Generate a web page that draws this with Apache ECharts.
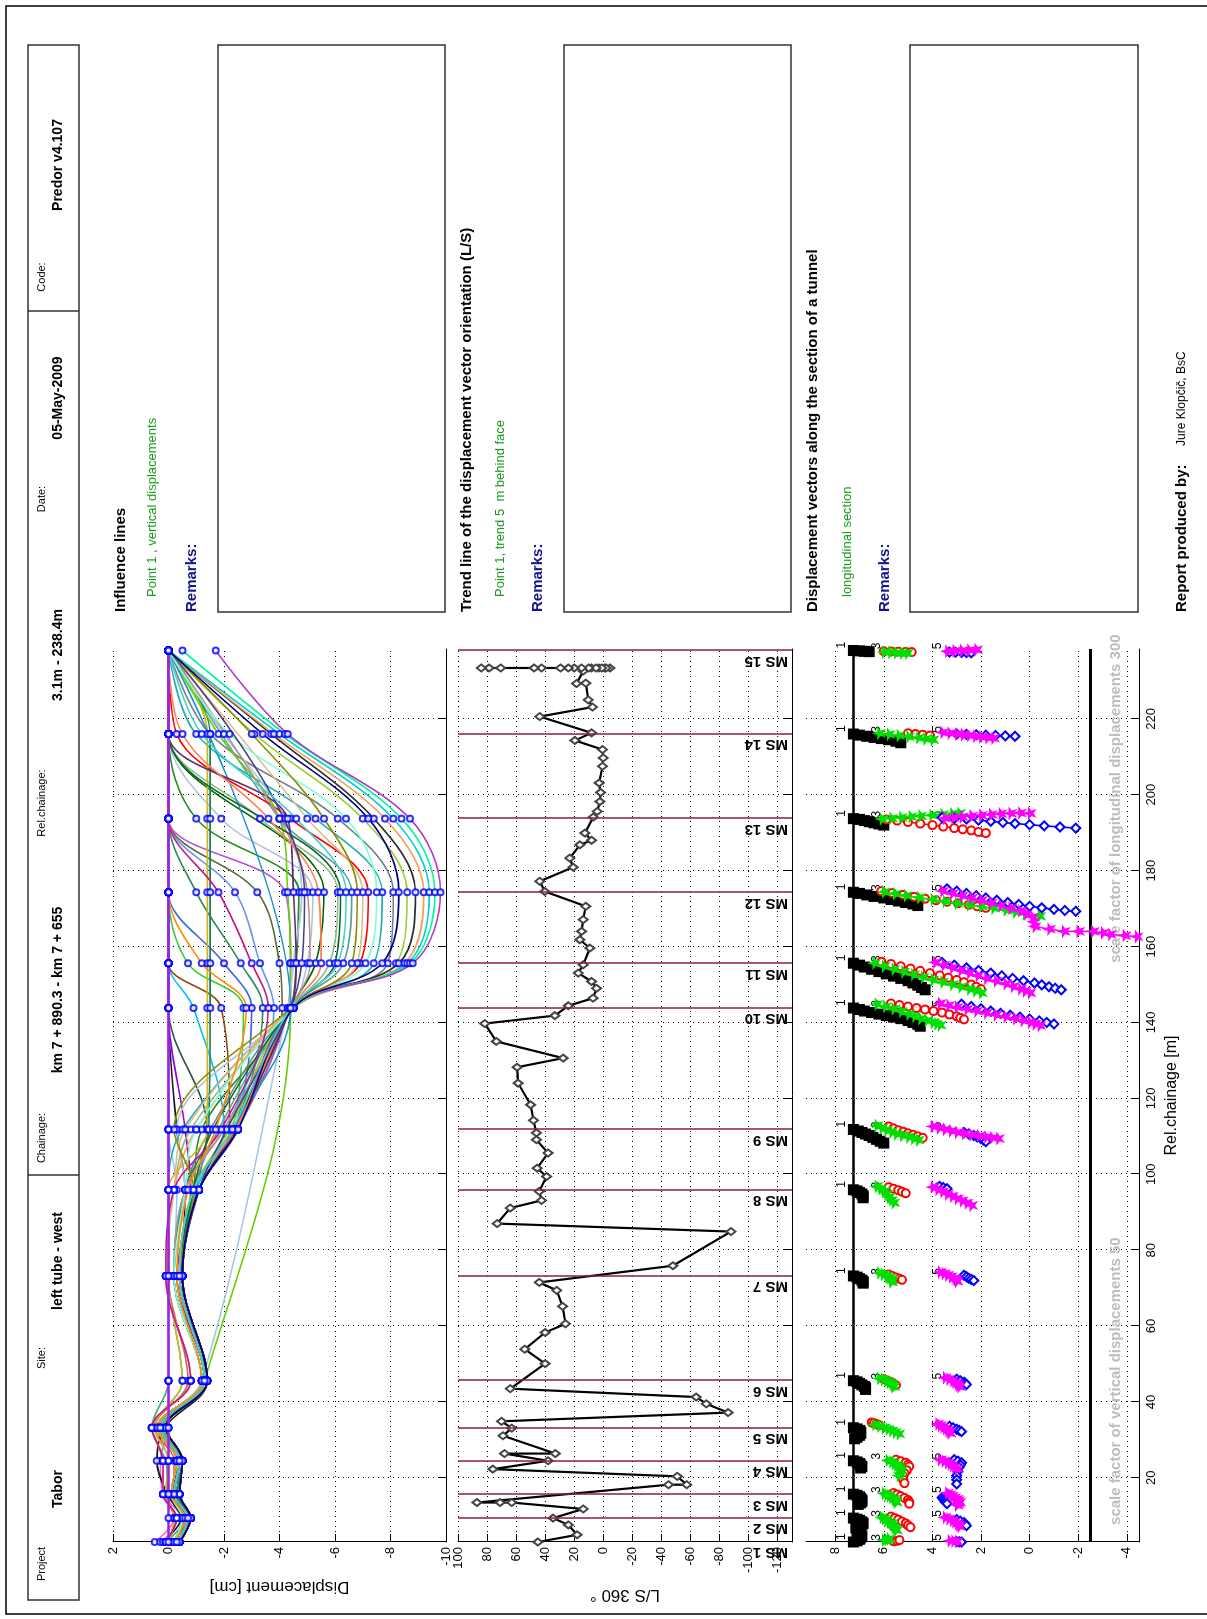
<!DOCTYPE html>
<html>
<head>
<meta charset="utf-8">
<title>Predor report - Tabor</title>
<script src="https://cdn.jsdelivr.net/npm/echarts@6/dist/echarts.min.js"></script>
<style>
  html, body { margin: 0; padding: 0; background: #fff; width: 1207px; height: 1619px; overflow: hidden; }
  /* the report is laid out in landscape and turned a quarter turn counter-clockwise onto the portrait page */
  #page { position: absolute; left: 0; top: 0; width: 1619px; height: 1207px;
          transform-origin: 0 0; transform: translate(0px, 1619px) rotate(-90deg); background: #fff; }
</style>
</head>
<body>
<div id="page"></div>
<script>
// ---------------------------------------------------------------- data
// measuring sections along the tunnel (relative chainage, m)
const MS_CHAINAGE = [3.1, 9.4, 15.7, 24.5, 33.2, 45.6, 73.2, 95.9, 111.8, 143.8, 155.6, 174.3, 193.7, 216.0, 238.0];
const MS_NAMES = ['MS 1','MS 2','MS 3','MS 4','MS 5','MS 6','MS 7','MS 8','MS 9','MS 10','MS 11','MS 12','MS 13','MS 14','MS 15'];

const CHAINAGE_TICKS = [20, 40, 60, 80, 100, 120, 140, 160, 180, 200, 220];
const DISP_TICKS = [2, 0, -2, -4, -6, -8, -10];
const ANGLE_TICKS = [100, 80, 60, 40, 20, 0, -20, -40, -60, -80, -100, -120];
const VECTOR_TICKS = [8, 6, 4, 2, 0, -2, -4];

// influence lines: vertical displacement of point 1 [cm] at MS 1 ... MS 15 (null = no reading)
const IL_01 = [0, 0, 0, 0, 0, 0, 0, 0, 0, 0, 0, 0, 0, 0, 0];
const IL_02 = [0.5, -0.2, 0, 0, 0, 0, 0, 0, 0, 0, 0, 0, 0, 0, 0];
const IL_03 = [0.3, -0.5, 0.2, 0.3, 0, 0, 0, 0, 0, 0, 0, 0, 0, 0, 0];
const IL_04 = [0.1, -0.6, 0.0, 0.1, 0.6, 0, 0, 0, 0, 0, 0, 0, 0, 0, 0];
const IL_05 = [-0.1, -0.7, -0.2, -0.2, 0.5, -0.7, 0, 0, 0, 0, 0, 0, 0, 0, 0];
const IL_06 = [0.2, -0.45, 0.05, 0.42, 0.15, -1.4, -0.5, -0.6, -0.3, 0, 0, 0, 0, 0, 0];
const IL_07 = [-0.2, -0.6, -0.1, -0.3, 0.4, -1.2, -0.2, -0.3, 0, 0, 0, 0, 0, 0, 0];
const IL_08 = [-0.2, -0.6, -0.2, -0.3, 0.3, -1.3, -0.3, -0.8, -0.6, 0, 0, 0, 0, 0, 0];
const IL_09 = [-0.3, -0.7, -0.2, -0.4, 0.3, -1.3, -0.4, -1.0, -1.4, 0, 0, 0, 0, 0, 0];
const IL_10 = [-0.3, -0.7, -0.3, -0.4, 0.2, -1.4, -0.4, -1.0, -2.0, -0.9, 0, 0, 0, 0, 0];
const IL_11 = [-0.3, -0.8, -0.3, -0.5, 0.2, -1.4, -0.5, -1.1, -2.2, -1.9, 0, 0, 0, 0, 0];
const IL_12 = [-0.3, -0.8, -0.3, -0.5, 0.2, -1.4, -0.5, -1.1, -2.3, -2.7, -0.7, 0, 0, 0, 0];
const IL_13 = [-0.4, -0.8, -0.3, -0.5, 0.1, -1.4, -0.5, -1.1, -2.4, -3.0, -2.0, 0, 0, 0, 0];
const IL_14 = [-0.4, -0.8, -0.3, -0.5, 0.1, -1.4, -0.5, -1.1, -2.4, -3.4, -2.6, -1.0, 0, 0, 0];
const IL_15 = [-0.4, -0.8, -0.4, -0.5, 0.1, -1.4, -0.5, -1.1, -2.5, -3.8, -3.3, -2.4, 0, 0, 0];
const IL_16 = [-0.4, -0.8, -0.4, -0.5, 0.1, -1.4, -0.5, -1.1, -2.5, -4.1, -4.0, -3.2, 0, 0, 0];
const IL_17 = [-0.4, -0.8, -0.4, -0.5, 0.1, -1.4, -0.5, -1.1, -2.5, -4.3, -4.4, -4.2, 0, 0, 0];
const IL_18 = [-0.3, -0.7, -0.2, -0.4, 0.3, -1.3, -0.4, -0.9, -1.2, -4.4, -4.6, -4.7, -1.0, 0, 0];
const IL_19 = [-0.2, -0.5, -0.1, -0.3, 0.4, -1.2, -0.2, -0.6, -0.3, -4.4, -5.0, -5.2, -1.9, 0, 0];
const IL_20 = [-0.4, -0.8, -0.4, -0.5, 0.1, -1.4, -0.5, -1.1, -2.5, -4.4, -5.3, -5.6, null, 0, 0];
const IL_21 = [0.1, -0.3, 0.2, 0.2, 0.6, -0.8, 0.1, -0.2, -0.8, -4.4, -5.8, -6.1, -3.3, 0, 0];
const IL_22 = [-0.3, -0.7, -0.2, -0.4, 0.3, -1.3, -0.4, -0.9, -1.8, -4.4, -6.3, -6.6, -4.0, null, 0];
const IL_23 = [-0.4, -0.8, -0.4, -0.5, 0.1, -1.4, -0.5, -1.1, -2.5, -4.5, -6.9, -7.2, -4.4, -0.3, 0];
const IL_24 = [0.0, -0.2, 0.1, 0.0, 0.5, -0.5, 0.0, 0.0, -0.5, -4.5, -7.4, -7.7, -5.3, -1.0, 0];
const IL_25 = [-0.2, -0.5, -0.1, -0.3, 0.4, -1.2, -0.2, -0.6, -1.5, -4.5, -7.9, -8.1, -6.1, -1.5, 0];
const IL_26 = [-0.3, -0.7, -0.2, -0.4, 0.3, -1.3, -0.4, -0.9, -2.2, -4.5, -8.2, -8.6, -7.0, -3.1, 0];
const IL_27 = [-0.4, -0.8, -0.4, -0.5, 0.1, -1.4, -0.5, -1.1, -2.4, -4.5, -8.3, -8.9, -7.4, -3.7, 0];
const IL_28 = [0.1, -0.3, 0.2, 0.2, 0.6, -0.8, 0.1, -0.2, -1.0, -4.5, -8.5, -9.2, -7.8, -3.8, 0];
const IL_29 = [-0.2, -0.5, -0.1, -0.3, 0.4, -1.2, -0.2, -0.6, -2.0, -4.5, -8.6, -9.4, -8.1, -4.0, 0];
const IL_30 = [-0.3, -0.7, -0.2, -0.4, 0.3, -1.3, -0.4, -0.9, -2.5, -4.5, -8.7, -9.6, -8.4, -4.2, -0.5];
const IL_31 = [-0.4, -0.8, -0.4, -0.5, 0.1, -1.4, -0.5, -1.1, -2.5, -4.5, -8.8, -9.8, -8.7, -4.3, -1.7];
const IL_32 = [0.0, -0.2, 0.1, 0.0, 0.5, -0.5, 0.0, 0.0, -1.4, -1.4, -1.4, -1.4, -1.4, -1.4, 0];
const IL_33 = [-0.2, -0.5, -0.1, -0.3, 0.4, -1.2, -0.2, -0.6, -1.45, -1.5, -1.5, -1.5, -1.5, -1.5, 0];
const IL_34 = [-0.4, -0.8, -0.4, -0.5, 0.1, -1.3, null, null, null, -4.4, -4.4, -4.3, -4.0, -1.8, 0];
const IL_35 = [-0.3, -0.7, -0.2, -0.4, 0.3, -1.2, null, null, null, -4.3, -4.5, -4.8, -4.2, -2.0, 0];
const IL_36 = [-0.3, -0.7, -0.2, -0.4, 0.3, -1.3, -0.4, -0.9, -2.3, -4.4, null, null, null, null, 0];
const IL_37 = [-0.4, -0.8, -0.4, -0.5, 0.1, -1.4, -0.5, -1.1, -2.4, -4.4, -4.6, -4.5, -4.3, 0, 0];
const IL_38 = [-0.2, -0.5, -0.1, -0.3, 0.4, -1.2, -0.2, -0.6, -2.0, -4.4, -5.1, -5.0, -4.0, null, 0];
const IL_39 = [-0.3, -0.7, -0.2, -0.4, 0.3, -1.3, -0.4, -0.9, -1.6, -4.4, -6.0, -6.2, null, 0, 0];
const IL_40 = [0.1, -0.3, 0.2, 0.2, 0.6, -0.8, 0.1, -0.2, -0.6, -4.4, -6.8, -7.0, -5.0, null, 0];
const IL_41 = [-0.3, -0.7, -0.2, -0.4, 0.3, -1.3, -0.4, -0.9, -2.4, -4.4, -5.5, -5.4, -3.6, -0.5, 0];
const IL_42 = [-0.2, -0.5, -0.1, -0.3, 0.4, -1.2, -0.2, -0.6, -1.0, -4.5, -7.1, -7.5, -6.4, -2.2, 0];
const IL_43 = [-0.4, -0.8, -0.4, -0.5, 0.1, -1.4, -0.5, -1.1, -2.1, -4.4, -4.8, -4.9, null, null, 0];
const IL_44 = [0.1, -0.3, 0.2, 0.2, 0.6, -0.8, 0.1, -0.2, -1.9, -3.6, -3.0, -1.8, 0, 0, 0];
const IL_45 = [-0.3, -0.7, -0.2, -0.4, 0.3, -1.3, -0.4, -0.9, -0.2, -4.4, -6.6, -6.8, -5.6, -3.0, 0];
const IL_46 = [-0.4, -0.8, -0.4, -0.5, 0.1, -1.4, -0.5, -1.1, -2.5, -4.5, -7.7, -8.3, -7.2, -3.4, 0];
const IL_47 = [-0.2, -0.6, -0.1, -0.3, 0.4, -1.2, -0.3, -0.7, -1.7, -2.8, -1.2, 0, 0, 0, 0];
const IL_48 = [-0.3, -0.7, -0.2, -0.4, 0.3, -1.3, -0.4, -0.9, -2.3, -4.4, -6.1, -6.4, -4.6, -1.2, 0];

const IL_COLORS = ['#a020f0','#ff6eb4','#e066ff','#3cb371','#cd5c5c','#1a1a1a','#87cefa','#9400d3','#2f4f4f','#00bfff',
                   '#8b4513','#32cd32','#4169e1','#2e8b57','#6495ed','#556b2f','#ba55d3','#228b22','#b0c4de','#006400',
                   '#8fbc8f','#5f9ea0','#ff0000','#20b2aa','#708090','#9acd32','#2f2f2f','#f4a460','#00ced1','#00fa9a',
                   '#b03cc8','#d4b41e','#1b7f5b','#66cd00','#a4c8e0','#1f8fd0','#5b2c6f','#bc8f8f','#0b6623','#deb887',
                   '#ff7f50','#7fffd4','#483d8b','#c71585','#8b8b00','#000080','#ff8c00','#48d1cc'];

// trend of the displacement vector orientation L/S [deg] along the chainage
const LS_POINTS = [
  [3.1,45],[5.0,18],[7.6,24],[9.4,34.5],[11.8,13.8],[13.5,63],[13.5,71],[13.5,87],[18.2,-45],[18.2,-57.5],
  [20.4,-51],[22.3,76],[24.5,38],[26.4,68],[26.4,33],[31.1,69],[33.1,63],[34.9,70],[37.2,-86],[39.5,-71],
  [41.3,-64],[43.5,64],[50.1,40],[53.9,54],[58.3,40],[60.6,26],[65.2,28],[69.4,32],[71.5,44],[75.9,-48],
  [84.9,-88],[87.0,73],[91.1,64],[93.1,42.5],[95.5,44],[99.4,39],[101.6,45.5],[105.6,38],[109.1,46],[110.9,46],
  [114.2,48],[118.3,50],[124.0,58.6],[128.2,59.3],[130.6,27.6],[135.0,73.6],[139.7,81.6],[141.8,33.3],[144.4,24],[146.4,7],
  [149.0,4.6],[150.8,8],[153.0,17.2],[155.2,13.8],[159.6,9.2],[161.8,16.1],[164.0,14.9],[167.1,13.8],[170.6,12],[174.5,40.2],
  [177.2,43.7],[180.9,20.7],[183.3,23],[186.8,16.1],[188.0,8],[189.9,12.6],[194.1,6.9],[195.6,4.1],[198.2,2.3],[200.6,1.8],
  [203.1,2.8],[207.5,0.5],[209.7,0],[211.9,0.5],[214.3,19.5],[216.3,8],[220.6,43.7],[223.1,7.4],[225.0,10.3],[229.4,12],
  [229.3,18.4],[232.6,13.8],[233.4,8],[233.4,3],[233.4,-1],[233.4,-4.6],[233.4,-2],[233.4,1],[233.4,5],[233.4,10],
  [233.4,15],[233.4,20],[233.4,24],[233.4,29.4],[233.4,42.5],[233.4,47.6],[233.4,70.6],[233.4,78.6],[233.4,84]
];

// displacement vectors, longitudinal section: reference lines
const TUNNEL_LINE_LEVEL = 7.25;
const BASE_LINE_LEVEL = -2.5;

// vector tip paths per measuring section [chainage, scaled position]
const P1_TRAILS = [
  [[3.1,7.25],[3.4,7.1],[3.8,7.0],[4.2,6.95],[4.6,6.9],[5.0,6.95],[5.4,7.0],[5.8,7.1]],
  [[9.4,7.25],[9.1,7.1],[8.8,7.0],[8.4,6.9],[8.0,6.85],[7.6,6.9],[7.2,7.0],[6.8,7.15]],
  [[15.7,7.25],[15.4,7.1],[15.0,7.0],[14.6,6.95],[14.2,6.9],[13.8,6.9],[13.4,6.95],[13.0,7.05]],
  [[24.5,7.25],[24.2,7.1],[23.8,7.0],[23.4,6.95],[23.0,6.9],[22.6,6.95]],
  [[33.2,7.25],[32.9,7.1],[32.5,7.0],[32.1,6.95],[31.7,6.95],[31.2,7.0],[30.7,7.1],[30.3,7.2]],
  [[45.6,7.25],[45.3,7.1],[44.9,7.0],[44.5,6.9],[44.1,6.8],[43.7,6.75],[43.3,6.75]],
  [[73.2,7.25],[72.9,7.1],[72.5,7.0],[72.1,6.9],[71.7,6.85],[71.3,6.85]],
  [[95.9,7.25],[95.6,7.1],[95.2,7.0],[94.8,6.9],[94.3,6.85],[93.8,6.85]],
  [[111.8,7.25],[111.4,7.05],[111.0,6.9],[110.6,6.75],[110.2,6.6],[109.7,6.45],[109.2,6.3],[108.7,6.15],[108.2,6.0]],
  [[143.8,7.25],[143.4,7.0],[143.0,6.8],[142.6,6.5],[142.2,6.2],[141.8,5.9],[141.4,5.6],[141.0,5.3],[140.5,5.0],[140.0,4.8],[139.5,4.6],[139.0,4.5]],
  [[155.6,7.25],[155.1,7.0],[154.6,6.8],[154.0,6.5],[153.4,6.2],[152.8,5.9],[152.2,5.6],[151.6,5.3],[151.0,5.0],[150.4,4.8],[149.8,4.6],[149.2,4.45],[148.6,4.3]],
  [[174.3,7.25],[174.0,7.0],[173.6,6.7],[173.2,6.4],[172.8,6.0],[172.4,5.7],[172.0,5.4],[171.6,5.1],[171.2,4.8],[170.8,4.6]],
  [[193.7,7.25],[193.5,7.0],[193.2,6.8],[192.9,6.6],[192.6,6.4],[192.3,6.2],[192.0,6.0]],
  [[216.0,7.25],[215.7,7.0],[215.4,6.7],[215.1,6.4],[214.8,6.1],[214.5,5.8],[214.1,5.5],[213.7,5.3]],
  [[238.0,7.25],[237.9,7.0],[237.8,6.8],[237.7,6.6]]
];
const P2_TRAILS = [
  [[3.3,5.6],[3.4,5.45],[3.6,5.35]],
  [[9.8,5.7],[9.4,5.55],[9.0,5.4],[8.5,5.25],[8.0,5.1],[7.5,5.0],[7.0,4.9]],
  [[16.0,5.6],[15.6,5.45],[15.2,5.3],[14.7,5.15],[14.2,5.0],[13.7,4.95],[13.2,4.95]],
  [[24.8,5.5],[24.4,5.3],[24.0,5.1],[23.5,5.0],[23.0,4.95],[22.0,5.05],[21.2,5.15],[20.4,5.2],[19.5,5.2],[18.6,5.15]],
  [[34.6,6.5],[34.4,6.4],[34.2,6.3],[33.9,6.2]],
  [[46.0,6.0],[45.6,5.85],[45.2,5.7],[44.8,5.6],[44.4,5.5]],
  [[73.6,5.8],[73.2,5.65],[72.8,5.5],[72.5,5.35],[72.2,5.25]],
  [[96.6,5.8],[96.2,5.6],[95.8,5.4],[95.4,5.25],[95.0,5.1]],
  [[112.6,5.8],[112.1,5.6],[111.6,5.4],[111.2,5.2],[110.8,5.0],[110.4,4.8],[110.0,4.6],[109.6,4.4]],
  [[145.0,5.7],[144.6,5.35],[144.2,5.0],[143.8,4.65],[143.4,4.3],[143.0,3.95],[142.6,3.6],[142.1,3.3],[141.6,3.0],[141.2,2.85],[140.8,2.7]],
  [[156.0,6.1],[155.4,5.7],[154.8,5.3],[154.2,4.9],[153.6,4.5],[153.0,4.1],[152.4,3.7],[151.8,3.35],[151.2,3.0],[150.6,2.7],[150.0,2.4],[149.4,2.2],[148.8,2.0]],
  [[174.6,6.1],[174.1,5.65],[173.6,5.2],[173.1,4.75],[172.6,4.3],[172.2,3.85],[171.8,3.4],[171.4,2.95],[171.0,2.5],[170.6,2.15],[170.2,1.8]],
  [[193.5,5.9],[193.2,5.45],[192.8,5.0],[192.4,4.5],[192.0,4.0],[191.6,3.55],[191.2,3.1],[190.9,2.75],[190.6,2.4],[190.2,2.1],[189.9,1.8]],
  [[216.2,5.0],[216.0,4.7],[215.8,4.4],[215.6,4.1]],
  [[237.8,6.0],[237.75,5.7],[237.7,5.4],[237.65,5.1],[237.6,4.85]]
];
const P3_TRAILS = [
  [[3.6,6.0],[3.7,5.9],[3.9,5.8]],
  [[9.6,6.1],[9.2,6.0],[8.8,5.9],[8.4,5.8],[8.0,5.7],[7.5,5.65],[7.0,5.6],[6.6,5.55],[6.2,5.5]],
  [[15.9,6.0],[15.5,5.9],[15.2,5.8],[14.8,5.7],[14.4,5.6],[14.0,5.55],[13.6,5.5]],
  [[24.6,5.85],[24.2,5.7],[23.8,5.6],[23.4,5.5],[23.0,5.4],[22.5,5.35],[22.0,5.3],[21.3,5.35],[20.6,5.4]],
  [[34.0,6.4],[33.6,6.2],[33.2,6.0],[32.8,5.85],[32.4,5.7],[32.0,5.55],[31.6,5.4]],
  [[46.2,6.2],[45.9,6.05],[45.6,5.9],[45.2,5.8],[44.8,5.7],[44.4,5.65],[44.0,5.6]],
  [[74.0,6.2],[73.6,6.05],[73.2,5.9],[72.8,5.8],[72.4,5.7],[72.0,5.7],[71.6,5.7]],
  [[96.8,6.3],[96.2,6.15],[95.5,6.0],[94.8,5.9],[94.0,5.8],[93.2,5.7],[92.5,5.6]],
  [[112.8,6.3],[112.2,6.1],[111.6,5.9],[111.1,5.7],[110.6,5.5],[110.2,5.25],[109.8,5.0],[109.4,4.8],[109.0,4.6]],
  [[144.8,6.3],[144.2,5.95],[143.6,5.6],[142.9,5.3],[142.2,5.0],[141.6,4.75],[141.0,4.5],[140.5,4.25],[140.0,4.0],[139.6,3.85],[139.3,3.7]],
  [[155.6,6.4],[154.8,6.0],[154.0,5.6],[153.3,5.2],[152.6,4.8],[151.9,4.4],[151.2,4.0],[150.6,3.6],[150.0,3.2],[149.4,2.85],[148.8,2.5],[148.3,2.25],[147.8,2.0]],
  [[174.4,6.0],[173.9,5.55],[173.4,5.1],[172.9,4.55],[172.4,4.0],[171.9,3.5],[171.4,3.0],[171.0,2.5],[170.6,2.0],[170.1,1.5],[169.6,1.0],[169.1,0.6],[168.6,0.2],[168.0,-0.4]],
  [[193.6,6.1],[193.8,5.7],[194.0,5.3],[194.2,4.9],[194.4,4.5],[194.6,4.05],[194.8,3.6],[195.0,3.2],[195.1,2.9]],
  [[216.2,6.2],[215.9,5.8],[215.6,5.4],[215.3,5.0],[215.0,4.6],[214.7,4.3],[214.5,4.0]],
  [[237.6,6.0],[237.5,5.75],[237.4,5.5],[237.35,5.25],[237.3,5.05]]
];
const P4_TRAILS = [
  [[3.2,3.0],[3.15,2.9],[3.1,2.8]],
  [[9.0,3.0],[8.6,2.85],[8.2,2.7],[7.8,2.65],[7.4,2.6]],
  [[14.8,3.6],[14.4,3.55],[14.0,3.5],[13.6,3.45],[13.2,3.4]],
  [[24.8,3.1],[24.4,2.95],[24.0,2.8],[23.4,2.85],[22.8,2.9],[21.7,2.95],[20.6,3.0],[19.5,3.0],[18.4,3.0]],
  [[33.6,3.3],[33.2,3.15],[32.8,3.0],[32.5,2.9],[32.2,2.8]],
  [[46.0,3.0],[45.6,2.85],[45.2,2.7],[44.9,2.65],[44.6,2.6]],
  [[73.4,2.7],[73.0,2.6],[72.6,2.5],[72.3,2.4],[72.0,2.3]],
  [[96.8,3.7],[96.5,3.55],[96.2,3.4]],
  [[111.0,2.7],[110.6,2.5],[110.2,2.3],[109.8,2.15],[109.4,2.0],[109.0,1.9],[108.6,1.8]],
  [[144.8,2.8],[144.2,2.4],[143.6,2.0],[143.0,1.6],[142.4,1.2],[141.9,0.8],[141.4,0.4],[140.9,0.0],[140.4,-0.4],[140.0,-0.7],[139.6,-1.0]],
  [[155.8,3.6],[155.1,3.1],[154.4,2.6],[153.7,2.1],[153.0,1.6],[152.3,1.15],[151.6,0.7],[151.0,0.25],[150.4,-0.2],[149.9,-0.5],[149.4,-0.8],[149.0,-1.05],[148.6,-1.3]],
  [[175.2,3.4],[174.6,3.0],[174.0,2.6],[173.4,2.2],[172.8,1.8],[172.2,1.35],[171.6,0.9],[171.1,0.45],[170.6,0.0],[170.2,-0.5],[169.8,-1.0],[169.5,-1.45],[169.3,-1.9]],
  [[194.0,3.6],[193.8,3.1],[193.6,2.6],[193.3,2.1],[193.0,1.6],[192.7,1.1],[192.4,0.6],[192.1,0.0],[191.8,-0.6],[191.5,-1.25],[191.2,-1.9]],
  [[216.0,3.0],[215.9,2.6],[215.8,2.2],[215.7,1.8],[215.6,1.4],[215.5,1.0],[215.4,0.6]],
  [[237.6,3.3],[237.55,3.05],[237.5,2.8],[237.45,2.6],[237.4,2.4]]
];
const P5_TRAILS = [
  [[3.4,3.3],[3.3,3.15],[3.2,3.0]],
  [[9.6,3.5],[9.2,3.35],[8.8,3.2],[8.4,3.1],[8.0,3.0],[7.6,2.95],[7.2,2.9]],
  [[16.0,3.4],[15.6,3.3],[15.2,3.2],[14.8,3.1],[14.4,3.0],[14.0,2.95],[13.6,2.9],[13.2,2.95],[12.8,3.0]],
  [[24.8,3.7],[24.4,3.55],[24.0,3.4],[23.6,3.3],[23.2,3.2],[22.8,3.1],[22.4,3.0]],
  [[34.2,3.8],[33.8,3.7],[33.4,3.6],[33.0,3.5],[32.6,3.4],[32.2,3.35],[31.8,3.3]],
  [[46.4,3.5],[46.0,3.35],[45.6,3.2],[45.2,3.1],[44.8,3.0],[44.4,2.95],[44.0,2.9]],
  [[74.2,3.7],[73.8,3.55],[73.4,3.4],[73.0,3.25],[72.6,3.1],[72.2,3.05],[71.8,3.0]],
  [[96.6,4.0],[96.0,3.8],[95.4,3.6],[94.8,3.4],[94.2,3.2],[93.6,3.0],[93.0,2.8],[92.4,2.6],[91.8,2.4]],
  [[112.6,4.0],[112.2,3.75],[111.8,3.5],[111.4,3.25],[111.0,3.0],[110.7,2.7],[110.4,2.4],[110.1,2.1],[109.8,1.8],[109.6,1.55],[109.4,1.3]],
  [[145.0,3.7],[144.5,3.35],[144.0,3.0],[143.5,2.6],[143.0,2.2],[142.5,1.8],[142.0,1.4],[141.5,1.0],[141.0,0.6],[140.5,0.3],[140.0,0.0],[139.6,-0.2],[139.2,-0.4]],
  [[155.8,3.9],[155.1,3.55],[154.4,3.2],[153.7,2.85],[153.0,2.5],[152.3,2.15],[151.6,1.8],[150.9,1.4],[150.2,1.0],[149.5,0.7],[148.8,0.4],[148.3,0.2],[147.8,0.0]],
  [[174.6,3.6],[174.0,3.2],[173.4,2.8],[172.8,2.4],[172.2,2.0],[171.5,1.6],[170.8,1.2],[170.1,0.8],[169.4,0.4],[168.6,0.15],[167.8,-0.1],[166.5,-0.15],[165.3,-0.2],[164.6,-0.8],[164.0,-1.4],[164.0,-2.0],[164.0,-2.6],[163.6,-3.0],[163.2,-3.3],[162.9,-3.9],[162.6,-4.4]],
  [[193.8,3.5],[194.0,3.15],[194.2,2.8],[194.4,2.4],[194.6,2.0],[194.8,1.6],[195.0,1.2],[195.1,0.8],[195.2,0.4],[195.1,0.0]],
  [[216.4,3.6],[216.2,3.3],[216.0,3.0],[215.8,2.75],[215.6,2.5],[215.4,2.25],[215.2,2.0],[215.0,1.75],[214.9,1.5]],
  [[237.8,3.4],[237.9,3.1],[238.0,2.8],[238.1,2.5],[238.2,2.2]]
];

// ---------------------------------------------------------------- chart
const FONT = '"Liberation Sans", Arial, Helvetica, sans-serif';
const STAR = 'path://M0,-10L2.4,-3.1L9.5,-3.1L3.8,1.2L5.9,8.1L0,4L-5.9,8.1L-3.8,1.2L-9.5,-3.1L-2.4,-3.1Z';
const DOTS = [1, 4];

const chart = echarts.init(document.getElementById('page'), null, { width: 1619, height: 1207, renderer: 'canvas' });

function xAxisFor(i) {
  return {
    type: 'value', gridIndex: i, min: 3.1, max: 238.4,
    axisLine: { show: true, onZero: false, lineStyle: { color: '#000', width: 1 } },
    axisTick: { show: true, inside: true, length: 8, customValues: CHAINAGE_TICKS, lineStyle: { color: '#000' } },
    axisLabel: { show: i === 2, customValues: CHAINAGE_TICKS, color: '#000', fontSize: 13, fontFamily: FONT, margin: 6 },
    splitLine: { show: true, lineStyle: { color: '#000', width: 1, type: DOTS } },
    name: i === 2 ? 'Rel.chainage [m]' : '',
    nameLocation: 'middle', nameGap: 25,
    nameTextStyle: { fontSize: 16, color: '#000', fontFamily: FONT }
  };
}
function yAxisFor(i, min, max, ticks, name, gap) {
  return {
    type: 'value', gridIndex: i, min: min, max: max,
    axisLine: { show: true, onZero: false, lineStyle: { color: '#000', width: 1 } },
    axisTick: { show: true, inside: true, length: 8, customValues: ticks, lineStyle: { color: '#000' } },
    axisLabel: { customValues: ticks, color: '#000', fontSize: 13, fontFamily: FONT, margin: 5 },
    splitLine: { show: true, lineStyle: { color: '#000', width: 1, type: DOTS } },
    name: name, nameLocation: 'middle', nameRotate: 90, nameGap: gap,
    nameTextStyle: { fontSize: 17, color: '#000', fontFamily: FONT }
  };
}

const series = [];

// influence lines (the all-zero line is drawn last, on top)
const IL_ALL = [IL_01, IL_02, IL_03, IL_04, IL_05, IL_06, IL_07, IL_08, IL_09, IL_10,
                IL_11, IL_12, IL_13, IL_14, IL_15, IL_16, IL_17, IL_18, IL_19, IL_20,
                IL_21, IL_22, IL_23, IL_24, IL_25, IL_26, IL_27, IL_28, IL_29, IL_30,
                IL_31, IL_32, IL_33, IL_34, IL_35, IL_36, IL_37, IL_38, IL_39, IL_40,
                IL_41, IL_42, IL_43, IL_44, IL_45, IL_46, IL_47, IL_48];
const readings = [];
const order = IL_ALL.map((_, i) => i).slice(1).concat([0]);
order.forEach(i => {
  const data = [];
  IL_ALL[i].forEach((v, j) => { if (v !== null) { data.push([MS_CHAINAGE[j], v]); readings.push([MS_CHAINAGE[j], v]); } });
  series.push({
    type: 'line', xAxisIndex: 0, yAxisIndex: 0, data: data, smooth: 0.35, showSymbol: false, silent: true,
    lineStyle: { color: IL_COLORS[i], width: i === 0 ? 2.6 : 1.6 }, itemStyle: { color: IL_COLORS[i] }, z: 2
  });
});
series.push({
  type: 'scatter', xAxisIndex: 0, yAxisIndex: 0, data: readings, symbol: 'emptyCircle', symbolSize: 6, silent: true,
  itemStyle: { color: '#0000ff', borderColor: '#0000ff', borderWidth: 1.6 }, z: 3
});

// L/S trend line with measuring-section markers
series.push({
  type: 'line', xAxisIndex: 1, yAxisIndex: 1, data: LS_POINTS, silent: true,
  symbol: 'emptyDiamond', symbolSize: [7, 9], showAllSymbol: true,
  lineStyle: { color: '#000', width: 2.2 }, itemStyle: { color: '#444', borderColor: '#444', borderWidth: 1 }, z: 3,
  markLine: {
    silent: true, symbol: ['none', 'none'], label: { show: false },
    lineStyle: { color: '#8c1c40', width: 1.5, type: 'solid' },
    data: MS_CHAINAGE.slice(1).map(c => ({ xAxis: c }))
  }
});

// displacement vectors
series.push({
  type: 'line', xAxisIndex: 2, yAxisIndex: 2, data: [], silent: true,
  markLine: {
    silent: true, symbol: ['none', 'none'], label: { show: false },
    data: [
      { yAxis: TUNNEL_LINE_LEVEL, lineStyle: { color: '#000', width: 2.6, type: 'solid' } },
      { yAxis: BASE_LINE_LEVEL, lineStyle: { color: '#000', width: 3, type: 'solid' } }
    ]
  }
});
const TRAIL_STYLES = [
  { trails: P1_TRAILS, color: '#000000', symbol: 'rect', size: 11, empty: false },
  { trails: P2_TRAILS, color: '#ff0000', symbol: 'emptyCircle', size: 8, empty: true },
  { trails: P3_TRAILS, color: '#00e000', symbol: STAR, size: 14, empty: false },
  { trails: P4_TRAILS, color: '#0000ff', symbol: 'emptyDiamond', size: 9, empty: true },
  { trails: P5_TRAILS, color: '#ff00ff', symbol: STAR, size: 14, empty: false }
];
TRAIL_STYLES.forEach((st, k) => {
  st.trails.forEach(tr => {
    series.push({
      type: 'line', xAxisIndex: 2, yAxisIndex: 2, data: tr, silent: true,
      symbol: st.symbol, symbolSize: st.size, showAllSymbol: true,
      lineStyle: { color: st.color, width: 1.6 },
      itemStyle: st.empty ? { color: st.color, borderColor: st.color, borderWidth: 1.8 } : { color: st.color },
      z: 3 + k
    });
  });
});

// static page frame, header and remark boxes (landscape coordinates)
function txt(x, y, text, font, fill, align) {
  return { type: 'text', x: x, y: y, silent: true, z: 5,
           style: { text: text, font: font, fill: fill || '#000', align: align || 'left', textAlign: align || 'left',
                    verticalAlign: 'middle', textVerticalAlign: 'middle' } };
}
function box(x, y, w, h, lw, color) {
  return { type: 'rect', silent: true, z: 1, shape: { x: x, y: y, width: w, height: h },
           style: { fill: 'none', stroke: color || '#333', lineWidth: lw || 1.5 } };
}
function vline(x, y1, y2) {
  return { type: 'line', silent: true, z: 1, shape: { x1: x, y1: y1, x2: x, y2: y2 }, style: { stroke: '#333', lineWidth: 1.5 } };
}
const SMALL = '11px ' + FONT, VALUE = 'bold 14px ' + FONT, TITLE = 'bold 15px ' + FONT;
const GREEN = '#1a9a1a', NAVY = '#14148c';
const staticGraphics = [
  box(5, 6, 1608, 1300, 1.5, '#000'),
  box(19, 28, 1555, 51, 1.5),
  vline(444, 28, 79), vline(1308, 28, 79),
  txt(55, 42, 'Project', SMALL, '#000', 'center'),
  txt(130, 58, 'Tabor', VALUE, '#000', 'center'),
  txt(261, 42, 'Site:', SMALL, '#000', 'center'),
  txt(358, 58, 'left tube - west', VALUE, '#000', 'center'),
  txt(481, 42, 'Chainage:', SMALL, '#000', 'center'),
  txt(629, 58, 'km 7 + 890.3 - km 7 + 655', VALUE, '#000', 'center'),
  txt(816, 42, 'Rel.chainage:', SMALL, '#000', 'center'),
  txt(964, 58, '3.1m - 238.4m', VALUE, '#000', 'center'),
  txt(1120, 42, 'Date:', SMALL, '#000', 'center'),
  txt(1221, 58, '05-May-2009', VALUE, '#000', 'center'),
  txt(1342, 42, 'Code:', SMALL, '#000', 'center'),
  txt(1454, 58, 'Predor v4.107', VALUE, '#000', 'center'),

  txt(1007, 121, 'Influence lines', TITLE),
  txt(1022, 152, 'Point 1 , vertical displacements', '13px ' + FONT, GREEN),
  txt(1007, 192, 'Remarks:', TITLE, NAVY),
  box(1007, 218, 567, 227),

  txt(1007, 467, 'Trend line of the displacement vector orientation (L/S)', TITLE),
  txt(1022, 500, 'Point 1, trend 5  m behind face', '13px ' + FONT, GREEN),
  txt(1007, 538, 'Remarks:', TITLE, NAVY),
  box(1007, 564, 567, 227),

  txt(1007, 813, 'Displacement vectors along the section of a tunnel', TITLE),
  txt(1022, 847, 'longitudinal section', '13px ' + FONT, GREEN),
  txt(1007, 885, 'Remarks:', TITLE, NAVY),
  box(1007, 910, 567, 228),

  txt(1007, 1182, 'Report produced by:', TITLE),
  txt(1173, 1182, 'Jure Klopčič, BsC', '12px ' + FONT)
];

const option = {
  animation: false,
  backgroundColor: '#fff',
  grid: [
    { left: 77, top: 113, width: 893, height: 333, containLabel: false, outerBoundsMode: 'none' },
    { left: 77, top: 458, width: 893, height: 334, containLabel: false, outerBoundsMode: 'none' },
    { left: 77, top: 806, width: 893, height: 333, containLabel: false, outerBoundsMode: 'none' }
  ],
  xAxis: [xAxisFor(0), xAxisFor(1), xAxisFor(2)],
  yAxis: [
    yAxisFor(0, -10, 2, DISP_TICKS, 'Displacement [cm]', 36),
    yAxisFor(1, -130, 100, ANGLE_TICKS, 'L/S 360 °', 44),
    yAxisFor(2, -4.5, 9.2, VECTOR_TICKS, '', 30)
  ],
  series: series,
  graphic: staticGraphics
};
chart.setOption(option);

// annotations placed through the axes' own scales
const dyn = [];
MS_CHAINAGE.forEach((c, k) => {
  const p = chart.convertToPixel({ gridIndex: 1 }, [c, -130]);
  dyn.push({ type: 'text', x: p[0] - 3, y: p[1] - 4, rotation: Math.PI / 2, silent: true, z: 6,
             style: { text: MS_NAMES[k], font: 'bold 15px ' + FONT, fill: '#000', align: 'left', textAlign: 'left',
                      verticalAlign: 'bottom', textVerticalAlign: 'bottom' } });
  [['1', 1.4, 7.75], ['3', 1.2, 6.3], ['5', 1.2, 3.8]].forEach(d => {
    const q = chart.convertToPixel({ gridIndex: 2 }, [c + d[1], d[2]]);
    dyn.push({ type: 'text', x: q[0], y: q[1], silent: true, z: 2,
               style: { text: d[0], font: '12px ' + FONT, fill: '#000', align: 'center', textAlign: 'center',
                        verticalAlign: 'middle', textVerticalAlign: 'middle' } });
  });
});
[[7.6, 'scale factor of vertical displacements 50'], [155.7, 'scale factor of longitudinal displacements 300']].forEach(s => {
  const p = chart.convertToPixel({ gridIndex: 2 }, [s[0], -3.56]);
  dyn.push({ type: 'text', x: p[0], y: p[1], silent: true, z: 1,
             style: { text: s[1], font: 'bold 15px ' + FONT, fill: '#bdbdbd', align: 'left', textAlign: 'left',
                      verticalAlign: 'middle', textVerticalAlign: 'middle' } });
});
chart.setOption({ graphic: staticGraphics.concat(dyn) });
</script>
</body>
</html>
